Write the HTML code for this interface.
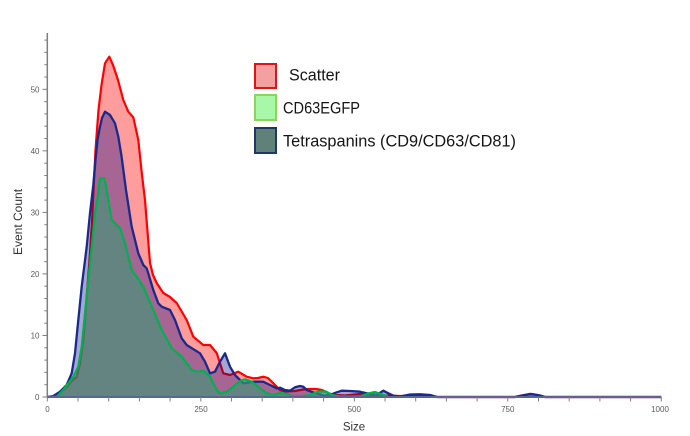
<!DOCTYPE html>
<html><head><meta charset="utf-8"><style>
html,body{margin:0;padding:0;background:#fff;}
svg{display:block;}
text{font-family:"Liberation Sans",sans-serif;}
</style></head><body>
<svg width="690" height="436" viewBox="0 0 690 436" xmlns="http://www.w3.org/2000/svg">
<rect width="690" height="436" fill="#fff"/>

<!-- Scatter (red) -->
<path d="M47.3,397 L53,396.5 L60,393.5 L66.7,387 L71.7,381 L76.7,377 L80,364 L83.3,340 L86.7,297 L89.5,260 L92,222 L93.5,190 L95.5,150 L98.5,110 L101.5,85 L105,63.3 L109.3,56.7 L113,65 L118,80 L123.3,100 L128.3,111.7 L133.3,117.3 L138.3,140 L142,175 L145,200 L150,263 L153,275 L156.7,283 L163.3,293 L170,297 L176.7,303 L186.7,320 L193.3,336.7 L203.3,345 L210,345 L216.7,353 L223.3,373.3 L230,375 L238.3,371.7 L246.7,376.7 L253.3,378.3 L258,378 L263.3,376.7 L268,378 L273.3,383.3 L280,390 L285,391.5 L295,391 L303,389.5 L308,389 L316,389 L322,390 L328,393 L335,395 L345,395.5 L360,394 L370,395 L380,395.5 L400,396 L420,396.5 L440,397 L515,397 L522,395.5 L530,393.8 L537,395 L545,397 L661,397 Z" fill="rgba(255,0,0,0.39)" stroke="none"/>
<path d="M47.3,397 L53,396.5 L60,393.5 L66.7,387 L71.7,381 L76.7,377 L80,364 L83.3,340 L86.7,297 L89.5,260 L92,222 L93.5,190 L95.5,150 L98.5,110 L101.5,85 L105,63.3 L109.3,56.7 L113,65 L118,80 L123.3,100 L128.3,111.7 L133.3,117.3 L138.3,140 L142,175 L145,200 L150,263 L153,275 L156.7,283 L163.3,293 L170,297 L176.7,303 L186.7,320 L193.3,336.7 L203.3,345 L210,345 L216.7,353 L223.3,373.3 L230,375 L238.3,371.7 L246.7,376.7 L253.3,378.3 L258,378 L263.3,376.7 L268,378 L273.3,383.3 L280,390 L285,391.5 L295,391 L303,389.5 L308,389 L316,389 L322,390 L328,393 L335,395 L345,395.5 L360,394 L370,395 L380,395.5 L400,396 L420,396.5 L440,397 L515,397 L522,395.5 L530,393.8 L537,395 L545,397 L661,397" fill="none" stroke="#ff0000" stroke-width="2.2" stroke-linejoin="round"/>

<!-- Tetraspanins (blue) -->
<path d="M47.3,397 L53.3,396 L60,391.7 L66.7,385 L71.7,373.3 L75,353.3 L78.3,320 L81.7,286.7 L86.7,246.7 L90,213.3 L93.3,185 L95.5,160 L97.5,140 L100,126.7 L102,118 L105,111.7 L110,115 L115,123.3 L118.3,136.7 L121.5,156 L126,190 L131.7,226.7 L138.3,253.3 L143.3,265 L146.7,268.3 L153.3,290 L158.3,303.3 L161.7,306.7 L170,310 L175,320 L181.7,338.3 L186.7,345 L200,353.3 L205,361.7 L210,373.3 L215,371.7 L220,361.7 L225,353.3 L230,366.7 L235,375 L243.3,383.3 L253.3,381.7 L263.3,381.7 L270,385 L276.7,388.3 L280,387.7 L285,390 L290,390.7 L295,387.3 L300,386 L303.3,386.7 L306.7,390 L313.3,392.3 L321.7,395 L325,395.7 L330,395 L336.7,392.3 L341.7,390.7 L350,391 L360,391.7 L366.7,393.3 L371.7,394.3 L376.7,395 L383.3,390.7 L388.3,393.3 L393.3,395.7 L400,396.5 L410,394.5 L420,394.3 L430,395 L437,397 L515,397 L522,395.5 L531.7,394 L540,395.5 L545,397 L661,397 Z" fill="rgba(0,0,128,0.35)" stroke="none"/>
<path d="M47.3,397 L53.3,396 L60,391.7 L66.7,385 L71.7,373.3 L75,353.3 L78.3,320 L81.7,286.7 L86.7,246.7 L90,213.3 L93.3,185 L95.5,160 L97.5,140 L100,126.7 L102,118 L105,111.7 L110,115 L115,123.3 L118.3,136.7 L121.5,156 L126,190 L131.7,226.7 L138.3,253.3 L143.3,265 L146.7,268.3 L153.3,290 L158.3,303.3 L161.7,306.7 L170,310 L175,320 L181.7,338.3 L186.7,345 L200,353.3 L205,361.7 L210,373.3 L215,371.7 L220,361.7 L225,353.3 L230,366.7 L235,375 L243.3,383.3 L253.3,381.7 L263.3,381.7 L270,385 L276.7,388.3 L280,387.7 L285,390 L290,390.7 L295,387.3 L300,386 L303.3,386.7 L306.7,390 L313.3,392.3 L321.7,395 L325,395.7 L330,395 L336.7,392.3 L341.7,390.7 L350,391 L360,391.7 L366.7,393.3 L371.7,394.3 L376.7,395 L383.3,390.7 L388.3,393.3 L393.3,395.7 L400,396.5 L410,394.5 L420,394.3 L430,395 L437,397 L515,397 L522,395.5 L531.7,394 L540,395.5 L545,397 L661,397" fill="none" stroke="#1a2a8c" stroke-width="2.3" stroke-linejoin="round"/>

<!-- CD63EGFP (green line, teal fill) -->
<path d="M47.3,397 L56.7,396.7 L61.7,391.7 L68.3,383.3 L73.3,376.7 L78.3,366.7 L81.7,346.7 L85,313.3 L88.3,280 L91.7,246.7 L95,213.3 L98,195 L100,178.3 L104.5,178.3 L108.3,200 L111.7,220 L115,223.3 L120,228.3 L125,243.3 L131.7,270 L136.7,276.7 L143.3,286.7 L153.3,310 L161.7,330 L171.7,348.3 L181.7,356.7 L191.7,370 L196.7,371.7 L203.3,370.7 L210,376.7 L216.7,390 L220,393.3 L226.7,391.7 L233.3,386.7 L240,381 L245,379.3 L251.7,381.7 L260,388.3 L266.7,393.3 L273.3,395 L280,393 L285,393.5 L291.7,396 L300,396.5 L310,395 L318,391.5 L326,391.5 L332,395 L340,396.5 L360,396.5 L368,393.5 L375,392 L381,394 L388,396.5 L661,397 Z" fill="rgba(63,148,118,0.66)" stroke="none"/>
<path d="M47.3,397 L56.7,396.7 L61.7,391.7 L68.3,383.3 L73.3,376.7 L78.3,366.7 L81.7,346.7 L85,313.3 L88.3,280 L91.7,246.7 L95,213.3 L98,195 L100,178.3 L104.5,178.3 L108.3,200 L111.7,220 L115,223.3 L120,228.3 L125,243.3 L131.7,270 L136.7,276.7 L143.3,286.7 L153.3,310 L161.7,330 L171.7,348.3 L181.7,356.7 L191.7,370 L196.7,371.7 L203.3,370.7 L210,376.7 L216.7,390 L220,393.3 L226.7,391.7 L233.3,386.7 L240,381 L245,379.3 L251.7,381.7 L260,388.3 L266.7,393.3 L273.3,395 L280,393 L285,393.5 L291.7,396 L300,396.5 L310,395 L318,391.5 L326,391.5 L332,395 L340,396.5 L360,396.5 L368,393.5 L375,392 L381,394 L388,396.5" fill="none" stroke="#00b050" stroke-width="2.2" stroke-linejoin="round"/>

<!-- Axes -->
<line x1="47.3" y1="33" x2="47.3" y2="397.5" stroke="#7f7f7f" stroke-width="1.5"/>
<line x1="47.3" y1="397" x2="661.5" y2="397" stroke="#5b6594" stroke-width="2"/>
<g stroke="#7f7f7f" stroke-width="1">
<line x1="42.5" y1="397" x2="47.3" y2="397"/>
<line x1="44.3" y1="384.7" x2="47.3" y2="384.7"/>
<line x1="44.3" y1="372.4" x2="47.3" y2="372.4"/>
<line x1="44.3" y1="360.1" x2="47.3" y2="360.1"/>
<line x1="44.3" y1="347.8" x2="47.3" y2="347.8"/>
<line x1="42.5" y1="335.5" x2="47.3" y2="335.5"/>
<line x1="44.3" y1="323.2" x2="47.3" y2="323.2"/>
<line x1="44.3" y1="310.8" x2="47.3" y2="310.8"/>
<line x1="44.3" y1="298.5" x2="47.3" y2="298.5"/>
<line x1="44.3" y1="286.2" x2="47.3" y2="286.2"/>
<line x1="42.5" y1="273.9" x2="47.3" y2="273.9"/>
<line x1="44.3" y1="261.6" x2="47.3" y2="261.6"/>
<line x1="44.3" y1="249.3" x2="47.3" y2="249.3"/>
<line x1="44.3" y1="237" x2="47.3" y2="237"/>
<line x1="44.3" y1="224.7" x2="47.3" y2="224.7"/>
<line x1="42.5" y1="212.4" x2="47.3" y2="212.4"/>
<line x1="44.3" y1="200.1" x2="47.3" y2="200.1"/>
<line x1="44.3" y1="187.8" x2="47.3" y2="187.8"/>
<line x1="44.3" y1="175.5" x2="47.3" y2="175.5"/>
<line x1="44.3" y1="163.2" x2="47.3" y2="163.2"/>
<line x1="42.5" y1="150.8" x2="47.3" y2="150.8"/>
<line x1="44.3" y1="138.5" x2="47.3" y2="138.5"/>
<line x1="44.3" y1="126.2" x2="47.3" y2="126.2"/>
<line x1="44.3" y1="113.9" x2="47.3" y2="113.9"/>
<line x1="44.3" y1="101.6" x2="47.3" y2="101.6"/>
<line x1="42.5" y1="89.3" x2="47.3" y2="89.3"/>
<line x1="44.3" y1="77" x2="47.3" y2="77"/>
<line x1="44.3" y1="64.7" x2="47.3" y2="64.7"/>
<line x1="44.3" y1="52.4" x2="47.3" y2="52.4"/>
<line x1="44.3" y1="40.1" x2="47.3" y2="40.1"/>
</g>
<g stroke="#7f7f7f" stroke-width="1">
<line x1="47.3" y1="397" x2="47.3" y2="401.5"/>
<line x1="78" y1="397" x2="78" y2="401.5"/>
<line x1="108.7" y1="397" x2="108.7" y2="401.5"/>
<line x1="139.4" y1="397" x2="139.4" y2="401.5"/>
<line x1="170.1" y1="397" x2="170.1" y2="401.5"/>
<line x1="200.8" y1="397" x2="200.8" y2="401.5"/>
<line x1="231.5" y1="397" x2="231.5" y2="401.5"/>
<line x1="262.2" y1="397" x2="262.2" y2="401.5"/>
<line x1="292.9" y1="397" x2="292.9" y2="401.5"/>
<line x1="323.6" y1="397" x2="323.6" y2="401.5"/>
<line x1="354.3" y1="397" x2="354.3" y2="401.5"/>
<line x1="385" y1="397" x2="385" y2="401.5"/>
<line x1="415.7" y1="397" x2="415.7" y2="401.5"/>
<line x1="446.4" y1="397" x2="446.4" y2="401.5"/>
<line x1="477.1" y1="397" x2="477.1" y2="401.5"/>
<line x1="507.8" y1="397" x2="507.8" y2="401.5"/>
<line x1="538.5" y1="397" x2="538.5" y2="401.5"/>
<line x1="569.2" y1="397" x2="569.2" y2="401.5"/>
<line x1="599.9" y1="397" x2="599.9" y2="401.5"/>
<line x1="630.6" y1="397" x2="630.6" y2="401.5"/>
<line x1="661.3" y1="397" x2="661.3" y2="401.5"/>
</g>

<g font-size="8" fill="#595959" text-anchor="end">
<text x="39.5" y="400">0</text>
<text x="39.5" y="338.5">10</text>
<text x="39.5" y="277">20</text>
<text x="39.5" y="215.5">30</text>
<text x="39.5" y="154">40</text>
<text x="39.5" y="92.5">50</text>
</g>
<g font-size="8" fill="#595959" text-anchor="middle">
<text x="47.5" y="412">0</text>
<text x="201" y="412">250</text>
<text x="354.3" y="412">500</text>
<text x="507.8" y="412">750</text>
<text x="660" y="412">1000</text>
</g>

<text x="354" y="430.5" font-size="11.5" fill="#333" text-anchor="middle">Size</text>
<text transform="translate(22,222) rotate(-90)" font-size="12" fill="#333" text-anchor="middle">Event Count</text>

<!-- Legend -->
<rect x="255" y="64" width="21" height="24" fill="#f4a0a0" stroke="#e01414" stroke-width="2"/>
<rect x="255" y="95" width="21" height="25" fill="#a9f7a9" stroke="#8fd45a" stroke-width="2"/>
<rect x="255" y="128" width="21" height="25" fill="#5f8179" stroke="#1f3864" stroke-width="2"/>
<g font-size="16.5" fill="#151515">
<text x="289" y="80.5" textLength="51" lengthAdjust="spacingAndGlyphs">Scatter</text>
<text x="283" y="113.5" textLength="77" lengthAdjust="spacingAndGlyphs">CD63EGFP</text>
<text x="283" y="146.5" textLength="233" lengthAdjust="spacingAndGlyphs">Tetraspanins (CD9/CD63/CD81)</text>
</g>
</svg>
</body></html>
